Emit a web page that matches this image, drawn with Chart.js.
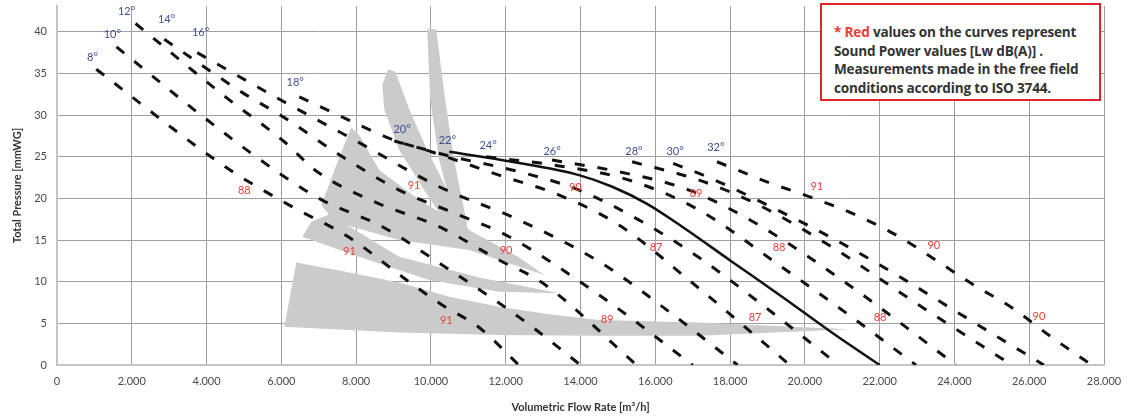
<!DOCTYPE html>
<html>
<head>
<meta charset="utf-8">
<script src="https://cdn.jsdelivr.net/npm/chart.js@4.4.0/dist/chart.umd.min.js"></script>
<style>
  html, body { margin: 0; padding: 0; background: #fff; }
  #wrap { position: relative; width: 1132px; height: 420px; }
  #note {
    position: absolute; left: 820px; top: 3px; width: 281px; height: 98px;
    box-sizing: border-box; border: 2px solid #e1262b; background: #fff;
    font: bold 13.6px "Open Sans", Lato, sans-serif; color: #333;
    line-height: 18.5px; padding: 18px 0 0 12px; letter-spacing: -0.2px;
  }
  #note span { color: #ee3b36; }
</style>
</head>
<body>
<div id="wrap">
  <canvas id="fanChart" width="1132" height="420"></canvas>
  <div id="note"><span>* Red</span> values on the curves represent<br>Sound Power values [Lw dB(A)] .<br>Measurements made in the free field<br>conditions according to ISO 3744.</div>
</div>
<script>
// axis ticks
const flowTicks = [0, 2000, 4000, 6000, 8000, 10000, 12000, 14000, 16000, 18000, 20000, 22000, 24000, 26000, 28000];
const pressTicks = [0, 5, 10, 15, 20, 25, 30, 35, 40];

// blade angle curves (flow m3/h, total pressure mmWG)
const flow8 = [1050, 4530, 6210, 7820, 9230, 10300, 11290, 12350];
const press8 = [35.5, 23.7, 19.2, 15.3, 10.6, 7.2, 4.5, 0];
const flow10 = [1590, 4080, 6080, 7090, 8700, 10300, 11770, 12760, 14000];
const press10 = [38.2, 29.2, 22.6, 19.8, 16.6, 12.0, 7.6, 4.4, 0];
const flow12 = [2100, 4530, 6080, 6960, 8540, 10220, 11820, 12970, 15500];
const press12 = [41.0, 32.1, 26.8, 23.2, 19.5, 16.6, 12.6, 9.9, 0];
const flow14 = [2870, 4960, 6080, 7600, 9150, 10760, 12010, 14500, 17000];
const press14 = [39.1, 32.7, 29.7, 25.1, 21.0, 18.0, 15.6, 8.4, 0];
const flow16 = [3750, 5950, 8080, 10220, 12360, 14500, 16370, 18200];
const press16 = [37.5, 31.9, 26.7, 21.4, 17.4, 12.4, 6.4, 0];
const flow18 = [6480, 7760, 8890, 10010, 11820, 13430, 15030, 16900, 19600];
const press18 = [32.2, 29.5, 27.2, 25.6, 22.8, 20.4, 16.8, 10.2, 0];
const flow20 = [9020, 10490, 12360, 13960, 15570, 17170, 19040, 20900];
const press20 = [26.9, 25.1, 23.2, 21.0, 17.4, 12.9, 6.6, 0];
const flow22 = [10490, 12170, 13960, 14850, 15780, 16720, 18050, 19390, 20720, 22000];
const press22 = [25.6, 24.4, 22.8, 21.4, 19.35, 16.6, 12.4, 8.2, 3.9, 0];
const flow24 = [11480, 13430, 15300, 17170, 19310, 21180, 22970];
const press24 = [25.0, 23.9, 22.2, 18.6, 12.0, 6.0, 0];
const flow26 = [13240, 15030, 16900, 18770, 21180, 24040];
const press26 = [24.6, 23.2, 21.0, 16.8, 9.6, 0];
const flow28 = [15380, 17170, 18770, 20640, 23050, 25530];
const press28 = [24.4, 22.2, 19.2, 14.4, 7.2, 0];
const flow30 = [16480, 17440, 19090, 20830, 22460, 23980, 25510, 26390];
const press30 = [24.2, 22.5, 19.0, 15.0, 10.8, 6.6, 2.4, 0];
const flow32 = [17650, 19040, 20190, 21370, 22520, 23500, 24520, 25530, 26580, 27670];
const press32 = [24.4, 21.9, 20.1, 18.0, 15.4, 12.6, 9.6, 6.9, 3.4, 0];

// blade angle labels
const angleNames = ['8°', '10°', '12°', '14°', '16°', '18°', '20°', '22°', '24°', '26°', '28°', '30°', '32°'];
const angleFlow = [950, 1480, 1860, 2930, 3840, 6370, 9230, 10440, 11530, 13240, 15430, 16530, 17620];
const anglePress = [36.9, 39.7, 42.4, 41.5, 39.9, 33.9, 28.3, 27.0, 26.4, 25.6, 25.6, 25.6, 26.1];

// sound power values Lw dB(A)
const soundValues = ['88', '91', '90', '89', '91', '91', '90', '87', '88', '90', '91', '89', '87', '88', '90'];
const soundFlow = [5010, 9550, 13860, 17090, 20320, 7820, 12010, 16020, 19310, 23450, 10410, 14710, 18670, 22010, 26260];
const soundPress = [20.9, 21.5, 21.3, 20.6, 21.4, 13.6, 13.7, 14.1, 14.1, 14.3, 5.4, 5.5, 5.7, 5.7, 5.8];

// grey operating zones
const bandAFlow = [9900, 10140, 10380, 10620, 10970, 10700, 10220, 9980];
const bandAPress = [40.3, 40.3, 31.9, 24.6, 16.8, 16.5, 24.6, 31.9];
const bandBFlow = [8860, 9050, 9420, 9900, 10440, 11020, 10620, 9820, 9150, 8750, 8700];
const bandBPress = [35.5, 35.2, 30.7, 25.8, 21.0, 16.2, 15.6, 21.0, 25.8, 30.7, 33.7];
const bandCFlow = [7870, 8080, 8620, 9690, 11020, 12360, 13030, 11020, 9150, 7420, 7070, 7420, 7680];
const bandCPress = [28.5, 27.6, 23.4, 19.8, 16.2, 12.9, 10.8, 13.8, 15.0, 17.2, 19.2, 23.4, 26.4];
const bandEFlow = [7280, 9150, 11290, 13430, 11820, 9950, 8080, 6560, 6800];
const bandEPress = [18.1, 13.0, 10.5, 8.6, 8.8, 10.2, 13.0, 15.4, 17.2];
const bandDFlow = [6400, 7820, 9150, 10490, 11820, 13160, 14500, 17170, 21180, 17170, 14500, 11820, 9150, 6080];
const bandDPress = [12.3, 11.1, 9.9, 8.2, 7.0, 6.1, 5.4, 5.1, 4.3, 3.5, 3.5, 3.6, 3.9, 4.6];

const curves = [
  [flow8, press8], [flow10, press10], [flow12, press12], [flow14, press14], [flow16, press16],
  [flow18, press18], [flow20, press20], [flow22, press22], [flow24, press24], [flow26, press26],
  [flow28, press28], [flow30, press30], [flow32, press32]
];
const bands = [
  [bandAFlow, bandAPress], [bandBFlow, bandBPress], [bandCFlow, bandCPress],
  [bandEFlow, bandEPress], [bandDFlow, bandDPress]
];

const toPoints = (xs, ys) => xs.map((v, i) => ({ x: v, y: ys[i] }));

const datasets = [];
curves.forEach((c, i) => {
  const solid = angleNames[i] === '22°';
  datasets.push({
    label: angleNames[i],
    data: toPoints(c[0], c[1]),
    showLine: true,
    borderColor: '#111',
    borderWidth: solid ? 2.5 : 3,
    borderDash: solid ? [] : [10, 13],
    borderCapStyle: 'butt',
    pointRadius: 0,
    cubicInterpolationMode: 'monotone',
    fill: false,
    order: 1
  });
});
bands.forEach((b, i) => {
  datasets.push({
    label: 'zone' + i,
    data: toPoints(b[0], b[1]),
    showLine: true,
    borderWidth: 0,
    borderColor: 'rgba(0,0,0,0)',
    backgroundColor: '#cbcbcb',
    pointRadius: 0,
    tension: 0,
    fill: 'shape',
    order: 2
  });
});

const textPlugin = {
  id: 'curveText',
  afterDatasetsDraw(chart) {
    const { ctx, scales: { x, y } } = chart;
    ctx.save();
    ctx.textAlign = 'center';
    ctx.textBaseline = 'middle';
    ctx.font = '11px Lato, sans-serif';
    ctx.fillStyle = '#3d4f92';
    angleNames.forEach((t, i) => {
      ctx.fillText(t, x.getPixelForValue(angleFlow[i]), y.getPixelForValue(anglePress[i]));
    });
    ctx.fillStyle = '#ec3d38';
    soundValues.forEach((t, i) => {
      ctx.fillText(t, x.getPixelForValue(soundFlow[i]), y.getPixelForValue(soundPress[i]));
    });
    ctx.restore();
  }
};

// keep the plot area edges fixed, no extra room for tick labels
const noPad = s => { s.paddingTop = 0; s.paddingBottom = 0; s.paddingLeft = 0; s.paddingRight = 0; };

new Chart(document.getElementById('fanChart'), {
  type: 'scatter',
  data: { datasets },
  options: {
    responsive: false,
    animation: false,
    layout: { padding: { top: 6, right: 28, left: 0, bottom: 0 } },
    plugins: { legend: { display: false }, tooltip: { enabled: false } },
    scales: {
      x: {
        type: 'linear', min: 0, max: 28000,
        afterBuildTicks: s => { s.ticks = flowTicks.map(v => ({ value: v })); },
        afterFit: s => { s.height = 55; noPad(s); },
        ticks: {
          padding: 10, color: '#4a4a4a', font: { family: 'Lato', size: 11 },
          callback: v => v.toLocaleString('de-DE')
        },
        grid: { color: '#a0a0a0', lineWidth: 1, drawTicks: false },
        border: { color: '#c4c4c4', width: 2 },
        title: {
          display: true, text: 'Volumetric Flow Rate [m³/h]', color: '#333',
          font: { family: 'Lato', size: 11, weight: 'bold' }, padding: { top: 0, bottom: 6 }
        }
      },
      y: {
        min: 0, max: 43.1,
        afterBuildTicks: s => { s.ticks = pressTicks.map(v => ({ value: v })); },
        afterFit: s => { s.width = 57; noPad(s); },
        ticks: { padding: 10, color: '#4a4a4a', font: { family: 'Lato', size: 11 } },
        grid: { color: '#a0a0a0', lineWidth: 1, drawTicks: false },
        border: { color: '#c4c4c4', width: 2 },
        title: {
          display: true, text: 'Total Pressure [mmWG]', color: '#333',
          font: { family: 'Lato', size: 11, weight: 'bold' }, padding: { top: 11, bottom: 0 }
        }
      }
    }
  },
  plugins: [textPlugin]
});
</script>
</body>
</html>
